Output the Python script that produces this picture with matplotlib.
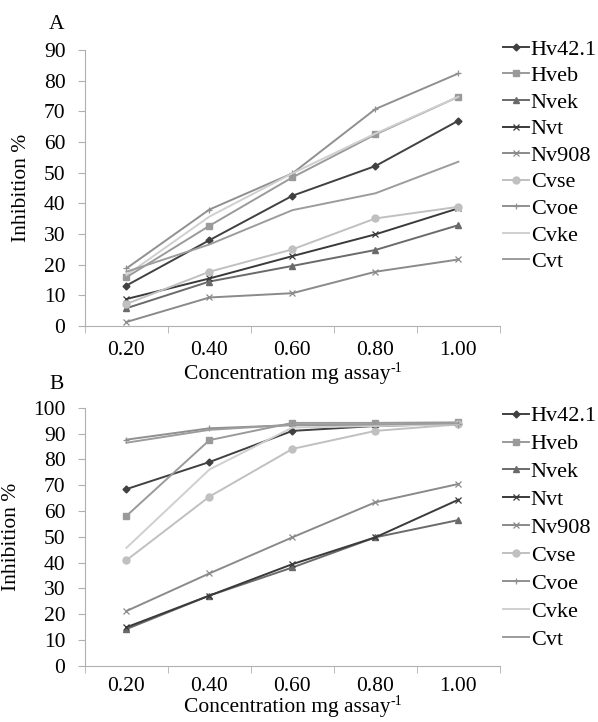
import numpy as np
import matplotlib.pyplot as plt

plt.rcParams['font.family'] = ['Liberation Serif', 'DejaVu Serif']

conc = ["0.20", "0.40", "0.60", "0.80", "1.00"]
names = ["Hv42.1", "Hveb", "Nvek", "Nvt", "Nv908", "Cvse", "Cvoe", "Cvke", "Cvt"]

# panel A values (inhibition %)
a_hv421 = [13.2, 28.0, 42.5, 52.2, 67.0]
a_hveb = [15.9, 32.7, 48.5, 62.5, 74.8]
a_nvek = [5.8, 14.5, 19.6, 24.8, 32.9]
a_nvt = [8.8, 15.5, 22.8, 29.9, 38.4]
a_nv908 = [1.3, 9.3, 10.7, 17.7, 21.7]
a_cvse = [7.2, 17.7, 25.0, 35.1, 38.9]
a_cvoe = [18.8, 38.0, 49.8, 70.8, 82.4]
a_cvke = [16.6, 35.7, 49.8, 62.8, 74.8]
a_cvt = [17.7, 26.6, 37.8, 43.3, 53.6]

# panel B values (inhibition %)
b_hv421 = [68.5, 79.0, 91.1, 93.0, 93.8]
b_hveb = [58.1, 87.5, 94.2, 94.2, 94.4]
b_nvek = [14.2, 27.2, 38.1, 49.8, 56.5]
b_nvt = [14.9, 27.2, 39.4, 49.8, 64.4]
b_nv908 = [21.2, 35.8, 49.8, 63.4, 70.5]
b_cvse = [40.9, 65.6, 84.1, 91.1, 93.6]
b_cvoe = [87.7, 92.1, 93.3, 93.3, 93.6]
b_cvke = [45.7, 76.1, 92.4, 93.0, 93.6]
b_cvt = [86.5, 91.5, 93.5, 93.6, 94.0]

data_a = [a_hv421, a_hveb, a_nvek, a_nvt, a_nv908, a_cvse, a_cvoe, a_cvke, a_cvt]
data_b = [b_hv421, b_hveb, b_nvek, b_nvt, b_nv908, b_cvse, b_cvoe, b_cvke, b_cvt]

styles = [
    dict(color="#404040", marker="D", ms=3.5),
    dict(color="#9a9a9a", marker="s", ms=5),
    dict(color="#6a6a6a", marker="^", ms=4.5),
    dict(color="#3a3a3a", marker="x", ms=5, mew=0.9),
    dict(color="#8a8a8a", marker="x", ms=5, mew=0.9),
    dict(color="#c0c0c0", marker="o", ms=5),
    dict(color="#909090", marker="+", ms=5, mew=0.9),
    dict(color="#cfcfcf", marker=None),
    dict(color="#9c9c9c", marker=None),
]

fig = plt.figure(figsize=(5.98, 7.22), dpi=100)
ax_a = fig.add_axes([0.142, 0.5485, 0.694, 0.382])
ax_b = fig.add_axes([0.142, 0.078, 0.694, 0.357])

x = np.arange(len(conc))
panels = [(ax_a, data_a, 90, "A", 0.966, 1.04, 0.27, -49, 11),
          (ax_b, data_b, 100, "B", 0.468, 1.008, 0.33, -42, 8)]
for ax, data, ymax, lab, lab_y, leg_y, leg_sp, xl_off, xpad in panels:
    for name, vals, st in zip(names, data, styles):
        ax.plot(x, vals, label=name, lw=1.4, **st)
    ax.set_xlim(-0.5, 4.5)
    ax.set_ylim(0, ymax)
    ax.set_yticks(np.arange(0, ymax + 1, 10))
    ax.set_xticks(x)
    ax.set_xticklabels(conc)
    ax.set_xticks(np.arange(-0.5, 4.6, 1), minor=True)
    ax.tick_params(axis="x", which="major", length=0, labelsize=15.5, pad=xpad)
    ax.tick_params(axis="x", which="minor", length=5, color="#b0b0b0", direction="out")
    ax.tick_params(axis="y", length=5, color="#b0b0b0", labelsize=15.5, pad=9)
    for s in ["top", "right"]:
        ax.spines[s].set_visible(False)
    for s in ["left", "bottom"]:
        ax.spines[s].set_color("#b0b0b0")
    # x label with a small raised "-1"
    xl = ax.annotate("Concentration mg assay", xy=(0.5, 0), xycoords="axes fraction",
                     xytext=(-5, xl_off), textcoords="offset pixels",
                     ha="center", va="center", fontsize=15.5)
    ax.annotate("-1", xy=(1.0, 0.5), xycoords=xl, ha="left", va="bottom", fontsize=10)
    ax.set_ylabel("Inhibition %", fontsize=15.5, labelpad=9)
    fig.text(0.095, lab_y, lab, fontsize=15.5, ha="center", va="center")
    ax.legend(loc="upper left", bbox_to_anchor=(1.007, leg_y), frameon=False, fontsize=16,
              handlelength=1.2, handletextpad=0.06, labelspacing=leg_sp,
              borderaxespad=0, borderpad=0)

fig.savefig("out.png", dpi=100)
